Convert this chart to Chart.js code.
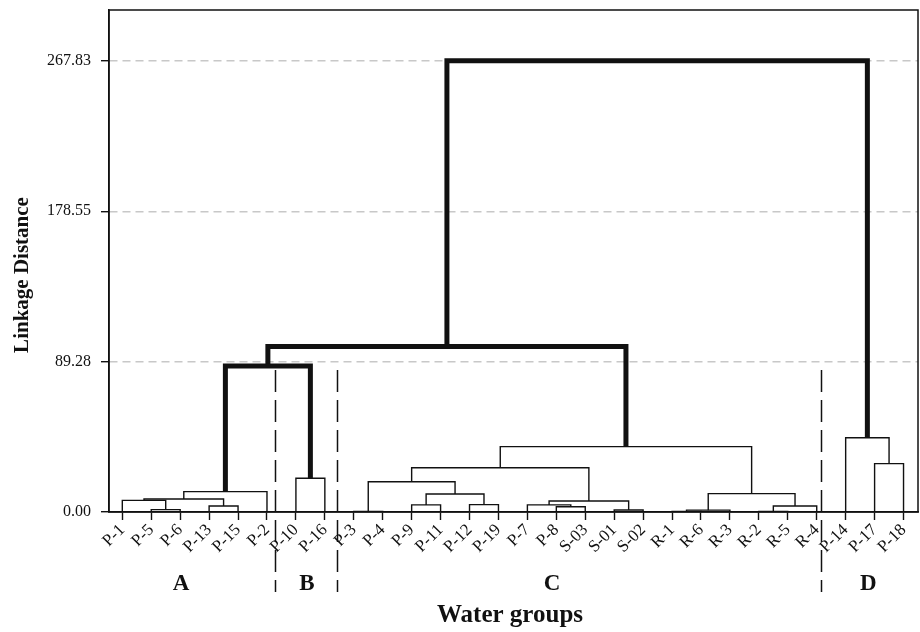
<!DOCTYPE html>
<html>
<head>
<meta charset="utf-8">
<script src="https://cdn.jsdelivr.net/npm/chart.js@4.4.0/dist/chart.umd.min.js"></script>
<style>
  html, body { margin: 0; padding: 0; background: #fff; }
  #wrap { width: 920px; height: 632px; }
</style>
</head>
<body>
<div id="wrap"><canvas id="dendro" width="920" height="632"></canvas></div>
<script>
var leaves = [
  "P-1", "P-5", "P-6", "P-13", "P-15", "P-2", "P-10", "P-16", "P-3", "P-4",
  "P-9", "P-11", "P-12", "P-19", "P-7", "P-8", "S-03", "S-01", "S-02", "R-1",
  "R-6", "R-3", "R-2", "R-5", "R-4", "P-14", "P-17", "P-18",
];

// node ids 0..27 are the leaves, every merge below makes node 28, 29, ...
var mergeLeft = [8, 19, 22, 29, 17, 1, 15, 30, 3, 14, 10, 12, 37, 0, 41, 38, 31, 42, 28, 6, 46, 26, 48, 25, 45, 52, 53];
var mergeRight = [9, 20, 23, 21, 18, 2, 16, 24, 4, 34, 11, 13, 32, 33, 36, 39, 35, 5, 43, 7, 40, 27, 44, 49, 47, 50, 51];
var mergeHeight = [
  0.3, 0.3, 0.4, 1.1, 1.2, 1.4, 3.1, 3.6, 3.6, 4.2, 4.2, 4.4, 6.5, 6.9,
  7.7, 10.7, 10.9, 12.1, 18.0, 20.0, 26.3, 28.7, 38.8, 44.1, 86.7, 98.2, 267.83,
];

var yTicks = [0, 89.28, 178.55, 267.83];

var groupNames = ["A", "B", "C", "D"];
var groupCenters = [2.03, 6.38, 14.85, 25.78];
var groupDividers = [5.28, 7.42, 24.15];

var serif = "'Liberation Serif', 'DejaVu Serif', serif";

// lay out the tree: each merged node sits midway over its two children
var nodeX = leaves.map(function (_, i) { return i; });
var nodeY = leaves.map(function () { return 0; });
var links = [];
for (var k = 0; k < mergeHeight.length; k++) {
  var a = mergeLeft[k];
  var b = mergeRight[k];
  var h = mergeHeight[k];
  var bold = h > 80;
  links.push({
    data: [
      { x: nodeX[a], y: nodeY[a] },
      { x: nodeX[a], y: h },
      { x: nodeX[b], y: h },
      { x: nodeX[b], y: nodeY[b] },
    ],
    borderColor: "#111",
    borderWidth: bold ? 5 : 1.4,
    borderJoinStyle: "miter",
    pointRadius: 0,
    fill: false,
    tension: 0,
    order: bold ? 0 : 1,
  });
  nodeX.push((nodeX[a] + nodeX[b]) / 2);
  nodeY.push(h);
}

var decor = {
  id: "decor",
  afterDatasetsDraw: function (chart) {
    var c = chart.ctx;
    var area = chart.chartArea;
    var xs = chart.scales.x;
    var ys = chart.scales.y;
    c.save();
    c.strokeStyle = "#111";
    c.lineWidth = 1.5;
    c.strokeRect(area.left, area.top, area.right - area.left, area.bottom - area.top);

    // group separators
    c.setLineDash([22, 8]);
    c.lineWidth = 1.5;
    groupDividers.forEach(function (d) {
      var px = Math.round(xs.getPixelForValue(d)) + 0.5;
      c.beginPath();
      c.moveTo(px, ys.getPixelForValue(84.3));
      c.lineTo(px, area.bottom + 80);
      c.stroke();
    });
    c.setLineDash([]);

    c.fillStyle = "#111";
    c.textAlign = "center";
    c.textBaseline = "middle";
    c.font = "bold 23px " + serif;
    groupNames.forEach(function (g, i) {
      c.fillText(g, xs.getPixelForValue(groupCenters[i]), area.bottom + 72);
    });

    c.font = "bold 25px " + serif;
    c.fillText("Water groups", 510, 616);

    c.translate(23, 275);
    c.rotate(-Math.PI / 2);
    c.font = "bold 21px " + serif;
    c.fillText("Linkage Distance", 0, 0);
    c.restore();
  },
};

const ctx = document.getElementById("dendro");

const dendro = new Chart(ctx, {
  type: "line",
  data: { datasets: links },
  plugins: [decor],
  options: {
    responsive: false,
    animation: false,
    layout: { padding: { top: 10, right: 2, left: 0, bottom: 0 } },
    plugins: {
      legend: { display: false },
      tooltip: { enabled: false },
    },
    scales: {
      x: {
        type: "linear",
        min: -0.46,
        max: 27.5,
        afterBuildTicks: function (scale) {
          scale.ticks = leaves.map(function (_, i) { return { value: i }; });
        },
        afterFit: function (scale) {
          scale.height = 120;
          scale.paddingLeft = 0;
          scale.paddingRight = 0;
        },
        ticks: {
          autoSkip: false,
          minRotation: 45,
          maxRotation: 45,
          padding: 0,
          color: "#111",
          font: { family: serif, size: 17 },
          callback: function (v) {
            return leaves[v];
          },
        },
        grid: {
          drawOnChartArea: false,
          drawTicks: true,
          tickLength: 8,
          tickColor: "#111",
          tickWidth: 1.4,
        },
        border: { color: "#111", width: 1.5 },
      },
      y: {
        type: "linear",
        min: 0,
        max: 298,
        afterBuildTicks: function (scale) {
          scale.ticks = yTicks.map(function (v) { return { value: v }; });
        },
        afterFit: function (scale) {
          scale.width = 109;
          scale.paddingTop = 0;
          scale.paddingBottom = 0;
        },
        ticks: {
          padding: 10,
          color: "#111",
          font: { family: serif, size: 16 },
          callback: function (v) {
            return v.toFixed(2);
          },
        },
        grid: {
          color: function (c) {
            return c.tick && c.tick.value === 0 ? "rgba(0,0,0,0)" : "#c8c8c8";
          },
          lineWidth: 1.4,
          tickLength: 8,
          tickColor: "#111",
          tickWidth: 1.4,
          tickBorderDash: [],
        },
        border: { color: "#111", width: 1.5, dash: [8, 5] },
      },
    },
  },
});
</script>
</body>
</html>
